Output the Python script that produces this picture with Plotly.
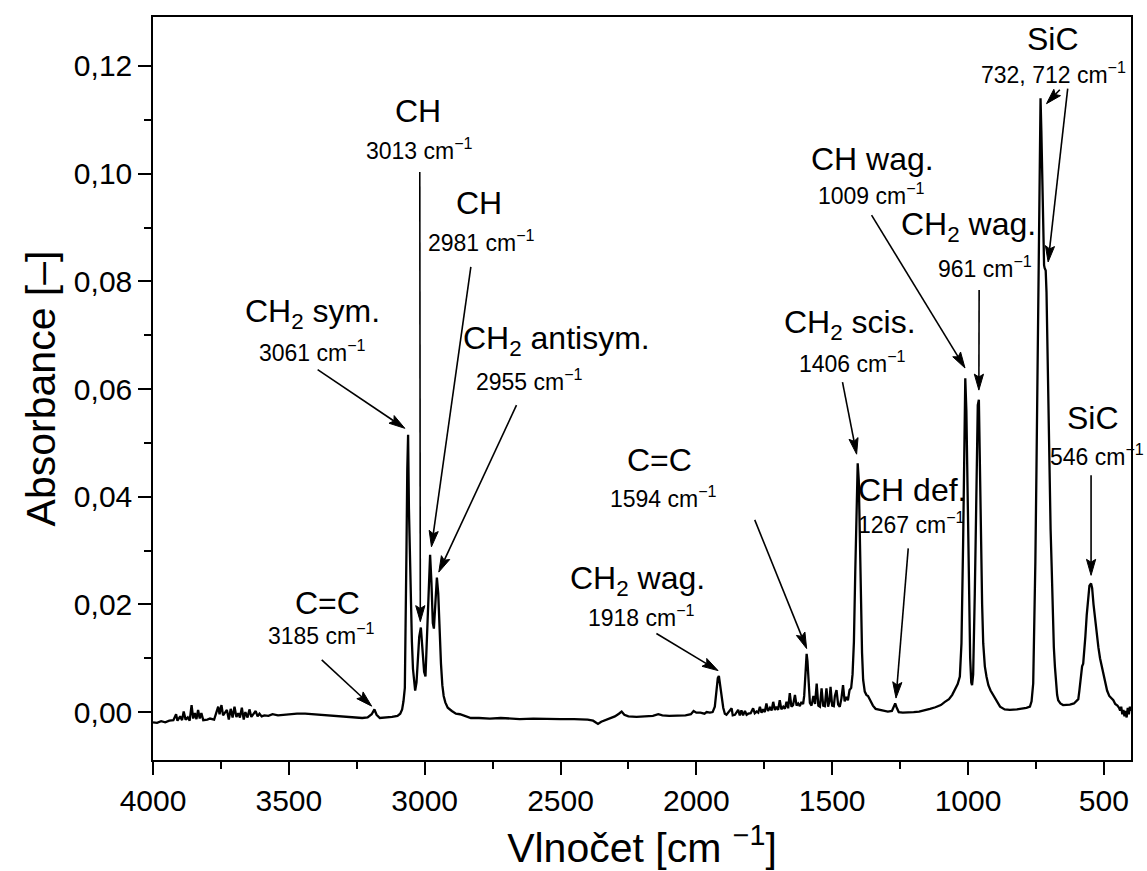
import math
import plotly.graph_objects as go

# ---- spectrum (wavenumber cm^-1, absorbance) ----
wavenumber = [
    4000, 3985, 3970, 3955, 3940, 3925, 3915, 3910, 3900, 3893, 3887, 3880, 3872, 3865,
    3858, 3852, 3846, 3840, 3834, 3828, 3822, 3815, 3800, 3790, 3775, 3760, 3755, 3748,
    3742, 3735, 3728, 3721, 3714, 3707, 3700, 3693, 3686, 3680, 3673, 3666, 3660, 3652,
    3645, 3638, 3630, 3622, 3615, 3608, 3600, 3590, 3575, 3560, 3540, 3520, 3500, 3470,
    3440, 3410, 3380, 3350, 3320, 3290, 3260, 3230, 3210, 3195, 3185, 3177, 3165, 3140,
    3120, 3100, 3090, 3083, 3078, 3073, 3070, 3067, 3064, 3061, 3058, 3055, 3051, 3047,
    3043, 3039, 3035, 3030, 3025, 3020, 3014, 3008, 3002, 2997, 2992, 2986, 2980, 2975,
    2970, 2966, 2961, 2955, 2950, 2945, 2940, 2935, 2930, 2924, 2915, 2900, 2885, 2870,
    2850, 2830, 2800, 2760, 2720, 2680, 2650, 2600, 2550, 2500, 2450, 2400, 2380, 2370,
    2362, 2350, 2320, 2300, 2285, 2275, 2265, 2250, 2220, 2190, 2160, 2140, 2125, 2100,
    2070, 2040, 2020, 2010, 2000, 1985, 1970, 1962, 1950, 1940, 1932, 1926, 1921, 1917,
    1912, 1907, 1901, 1895, 1889, 1870, 1866, 1858, 1846, 1840, 1834, 1828, 1821, 1815,
    1809, 1800, 1791, 1785, 1778, 1772, 1766, 1760, 1754, 1748, 1742, 1736, 1729, 1723,
    1717, 1711, 1705, 1699, 1693, 1687, 1680, 1674, 1668, 1662, 1656, 1650, 1644, 1637,
    1631, 1625, 1619, 1613, 1607, 1603, 1599, 1596, 1594, 1591, 1588, 1585, 1582, 1576,
    1569, 1563, 1557, 1551, 1545, 1539, 1533, 1527, 1521, 1515, 1510, 1506, 1500, 1494,
    1490, 1484, 1478, 1472, 1466, 1460, 1454, 1448, 1442, 1436, 1430, 1425, 1420, 1415,
    1410, 1406, 1402, 1398, 1394, 1390, 1386, 1380, 1374, 1368, 1360, 1350, 1340, 1325,
    1310, 1295, 1280, 1272, 1268, 1263, 1255, 1240, 1220, 1200, 1180, 1160, 1140, 1120,
    1100, 1085, 1070, 1058, 1048, 1038, 1030, 1024, 1018, 1014, 1010, 1006, 1002, 999,
    995, 992, 988, 985, 981, 978, 975, 972, 968, 964, 960, 957, 953, 948,
    944, 938, 932, 925, 917, 907, 895, 882, 865, 846, 820, 800, 785, 772,
    766, 760, 756, 752, 748, 745, 742, 739, 736, 733, 730, 727, 724, 720,
    718, 714, 711, 708, 705, 700, 696, 692, 688, 684, 680, 676, 672, 668,
    660, 650, 637, 625, 610, 600, 594, 590, 585, 580, 576, 572, 568, 563,
    558, 553, 547, 543, 538, 533, 527, 520, 514, 508, 502, 495, 488, 480,
    472, 465, 458, 450, 444, 440, 436, 432, 428, 424, 420, 416, 412, 408,
    404, 400,
]
absorbance = [
    -0.0019, -0.0020, -0.0017, -0.0019, -0.0016, -0.0015, -0.0004, -0.0016, -0.0008, -0.0015, 0.0001, -0.0014, -0.0010, -0.0016,
    0.0013, -0.0012, -0.0002, -0.0013, 0.0004, -0.0012, -0.0002, -0.0015, -0.0014, -0.0012, -0.0014, 0.0010, -0.0004, 0.0013,
    -0.0006, -0.0002, 0.0004, -0.0014, 0.0006, -0.0010, 0.0010, -0.0009, -0.0002, -0.0010, 0.0008, -0.0014, 0.0000, -0.0010,
    0.0005, -0.0009, -0.0004, 0.0002, -0.0008, -0.0003, -0.0008, -0.0006, -0.0007, -0.0004, -0.0006, -0.0005, -0.0004, -0.0003,
    -0.0003, -0.0004, -0.0005, -0.0006, -0.0008, -0.0009, -0.0010, -0.0011, -0.0010, -0.0004, 0.0005, -0.0005, -0.0011, -0.0010,
    -0.0009, -0.0007, -0.0003, 0.0005, 0.0020, 0.0045, 0.0140, 0.0300, 0.0450, 0.0515, 0.0380, 0.0290, 0.0200, 0.0130,
    0.0080, 0.0050, 0.0040, 0.0055, 0.0095, 0.0140, 0.0157, 0.0120, 0.0075, 0.0066, 0.0130, 0.0230, 0.0292, 0.0240,
    0.0165, 0.0155, 0.0210, 0.0250, 0.0220, 0.0150, 0.0090, 0.0050, 0.0030, 0.0018, 0.0008, 0.0002, -0.0003, -0.0004,
    -0.0007, -0.0011, -0.0011, -0.0012, -0.0011, -0.0012, -0.0013, -0.0012, -0.0013, -0.0013, -0.0013, -0.0014, -0.0016, -0.0020,
    -0.0022, -0.0018, -0.0012, -0.0008, -0.0003, 0.0001, -0.0005, -0.0008, -0.0009, -0.0008, -0.0007, -0.0004, -0.0006, -0.0007,
    -0.0007, -0.0006, -0.0004, 0.0002, -0.0001, -0.0001, -0.0003, 0.0000, -0.0001, 0.0000, 0.0010, 0.0040, 0.0063, 0.0067,
    0.0050, 0.0025, 0.0008, -0.0003, -0.0005, 0.0007, -0.0006, -0.0005, 0.0004, -0.0006, 0.0003, -0.0006, 0.0002, -0.0005,
    -0.0003, -0.0002, 0.0007, -0.0002, 0.0001, -0.0001, 0.0010, -0.0001, 0.0005, 0.0000, 0.0016, 0.0002, 0.0008, 0.0003,
    0.0019, 0.0004, 0.0010, 0.0004, 0.0022, 0.0005, 0.0010, 0.0006, 0.0019, 0.0007, 0.0035, 0.0010, 0.0013, 0.0032,
    0.0012, 0.0016, 0.0011, 0.0019, 0.0015, 0.0030, 0.0070, 0.0100, 0.0108, 0.0095, 0.0060, 0.0030, 0.0017, 0.0012,
    0.0030, 0.0015, 0.0053, 0.0012, 0.0010, 0.0044, 0.0012, 0.0011, 0.0044, 0.0010, 0.0020, 0.0047, 0.0012, 0.0011,
    0.0030, 0.0041, 0.0014, 0.0010, 0.0025, 0.0050, 0.0020, 0.0028, 0.0022, 0.0041, 0.0045, 0.0070, 0.0130, 0.0260,
    0.0400, 0.0462, 0.0430, 0.0320, 0.0200, 0.0110, 0.0060, 0.0038, 0.0032, 0.0030, 0.0022, 0.0012, 0.0006, 0.0004,
    0.0003, 0.0001, 0.0002, 0.0010, 0.0016, 0.0009, 0.0000, -0.0001, -0.0001, 0.0000, 0.0001, 0.0003, 0.0006, 0.0009,
    0.0013, 0.0019, 0.0024, 0.0032, 0.0041, 0.0052, 0.0066, 0.0128, 0.0313, 0.0500, 0.0620, 0.0560, 0.0420, 0.0313,
    0.0180, 0.0100, 0.0055, 0.0050, 0.0070, 0.0128, 0.0220, 0.0313, 0.0480, 0.0570, 0.0580, 0.0480, 0.0313, 0.0200,
    0.0128, 0.0085, 0.0066, 0.0050, 0.0040, 0.0032, 0.0020, 0.0010, 0.0005, 0.0004, 0.0005, 0.0006, 0.0008, 0.0010,
    0.0020, 0.0053, 0.0150, 0.0280, 0.0450, 0.0600, 0.0750, 0.0900, 0.1050, 0.1140, 0.1080, 0.0980, 0.0900, 0.0830,
    0.0825, 0.0820, 0.0780, 0.0680, 0.0580, 0.0440, 0.0340, 0.0270, 0.0180, 0.0120, 0.0084, 0.0050, 0.0032, 0.0022,
    0.0016, 0.0013, 0.0013, 0.0014, 0.0016, 0.0020, 0.0024, 0.0040, 0.0070, 0.0085, 0.0090, 0.0110, 0.0140, 0.0180,
    0.0215, 0.0235, 0.0239, 0.0230, 0.0200, 0.0175, 0.0146, 0.0120, 0.0100, 0.0085, 0.0072, 0.0055, 0.0040, 0.0030,
    0.0025, 0.0022, 0.0015, 0.0012, 0.0008, 0.0003, 0.0010, -0.0004, 0.0004, -0.0008, 0.0002, -0.0010, 0.0008, -0.0004,
    0.0010, 0.0002,
]

# ---- band labels ----
band_names = ["C=C", "CH<sub>2</sub> sym.", "CH", "CH", "CH<sub>2</sub> antisym.",
              "CH<sub>2</sub> wag.", "C=C", "CH<sub>2</sub> scis.", "CH def.", "CH wag.",
              "CH<sub>2</sub> wag.", "SiC", "SiC"]
band_positions = ["3185", "3061", "3013", "2981", "2955", "1918", "1594", "1406",
                  "1267", "1009", "961", "732, 712", "546"]

# placement of label texts (name x, name y, value x, value y) in data units
label_layout = [
    (3357, 0.0202, 3379, 0.0145),
    (3412, 0.0740, 3412, 0.0671),
    (3024, 0.1117, 3018, 0.1045),
    (2800, 0.0945, 2790, 0.0875),
    (2514, 0.0691, 2613, 0.0617),
    (2215, 0.0245, 2201, 0.0178),
    (2134, 0.0468, 2120, 0.0399),
    (1435, 0.0719, 1427, 0.0650),
    (1207, 0.0412, 1207, 0.0351),
    (1350, 0.1027, 1354, 0.0962),
    (997, 0.0902, 938, 0.0826),
    (687, 0.1250, 687, 0.1187),
    (540, 0.0546, 527, 0.0477),
]
# arrows: (tail x, tail y, head x, head y) in data units
arrow_layout = [
    (3379, 0.0097, 3195, 0.0011),
    (3394, 0.0636, 3073, 0.0527),
    (3018, 0.1003, 3016, 0.0168),
    (2830, 0.0827, 2975, 0.0307),
    (2662, 0.0570, 2948, 0.0260),
    (2147, 0.0146, 1920, 0.0077),
    (1785, 0.0357, 1594, 0.0118),
    (1462, 0.0613, 1410, 0.0479),
    (1220, 0.0304, 1265, 0.0026),
    (1355, 0.0923, 1011, 0.0639),
    (959, 0.0784, 960, 0.0598),
    (662, 0.1156, 711, 0.1130),
    (633, 0.1158, 705, 0.0836),
    (547, 0.0440, 547, 0.0254),
]

FONT = "Liberation Sans"
W, H = 1147, 871
ML, MR, MT, MB = 153, 16, 17, 111
X_RANGE = [4000, 400]
Y_RANGE = [-0.0089, 0.1291]
PW, PH = W - ML - MR, H - MT - MB


def to_px(x, y):
    return ((X_RANGE[0] - x) / (X_RANGE[0] - X_RANGE[1]) * PW,
            (Y_RANGE[1] - y) / (Y_RANGE[1] - Y_RANGE[0]) * PH)


def to_data(px, py):
    return (X_RANGE[0] - px / PW * (X_RANGE[0] - X_RANGE[1]),
            Y_RANGE[1] - py / PH * (Y_RANGE[1] - Y_RANGE[0]))


fig = go.Figure()
fig.add_trace(go.Scatter(x=wavenumber, y=absorbance, mode="lines",
                         line=dict(color="black", width=2.3), showlegend=False,
                         hoverinfo="skip"))

annotations = []
for name, pos, (nx, ny, vx, vy) in zip(band_names, band_positions, label_layout):
    annotations.append(dict(x=nx, y=ny, xref="x", yref="y", text=name, showarrow=False,
                            font=dict(family=FONT, size=32, color="black"),
                            xanchor="center", yanchor="middle"))
    annotations.append(dict(x=vx, y=vy, xref="x", yref="y",
                            text=pos + " cm<sup>−1</sup>", showarrow=False,
                            font=dict(family=FONT, size=23, color="black"),
                            xanchor="center", yanchor="middle"))

# arrows drawn as a line plus a slender filled head
shapes = []
for (tx, ty, hx, hy) in arrow_layout:
    tpx, tpy = to_px(tx, ty)
    hpx, hpy = to_px(hx, hy)
    dx, dy = hpx - tpx, hpy - tpy
    length = math.hypot(dx, dy)
    ux, uy = dx / length, dy / length
    nx_, ny_ = -uy, ux
    hl = min(16.0, 0.8 * length)
    hw = 4.6
    bx, by = hpx - ux * hl, hpy - uy * hl
    kx, ky = hpx - ux * hl * 0.82, hpy - uy * hl * 0.82
    p_tip = to_data(hpx, hpy)
    p_l = to_data(bx + nx_ * hw, by + ny_ * hw)
    p_k = to_data(kx, ky)
    p_r = to_data(bx - nx_ * hw, by - ny_ * hw)
    p_tail = to_data(tpx, tpy)
    shapes.append(dict(type="line", xref="x", yref="y", x0=p_tail[0], y0=p_tail[1],
                       x1=p_k[0], y1=p_k[1], line=dict(color="black", width=1.6)))
    path = "M {},{} L {},{} L {},{} L {},{} Z".format(p_tip[0], p_tip[1], p_l[0], p_l[1],
                                                     p_k[0], p_k[1], p_r[0], p_r[1])
    shapes.append(dict(type="path", xref="x", yref="y", path=path,
                       fillcolor="black", line=dict(color="black", width=1)))

fig.update_layout(
    width=W, height=H,
    margin=dict(l=ML, r=MR, t=MT, b=MB),
    paper_bgcolor="white", plot_bgcolor="white",
    separators=",.",
    font=dict(family=FONT, color="black"),
    annotations=annotations,
    shapes=shapes,
    hovermode=False,
)
fig.update_xaxes(
    range=X_RANGE, tick0=0, dtick=500, ticks="outside", ticklen=13, tickwidth=1.5,
    tickcolor="black", showline=True, linecolor="black", linewidth=1.5, mirror=True,
    showgrid=False, zeroline=False, automargin=False,
    tickfont=dict(family=FONT, size=30, color="black"),
    minor=dict(dtick=250, tick0=0, ticks="outside", ticklen=7, tickwidth=1.5, tickcolor="black", showgrid=False),
    title=dict(text="Vlnočet [cm <sup>−1</sup>]", font=dict(family=FONT, size=41, color="black"), standoff=28),
)
fig.update_yaxes(
    range=Y_RANGE, tick0=0, dtick=0.02, tickformat=".2f", ticks="outside",
    ticklen=13, tickwidth=1.5, tickcolor="black", showline=True, linecolor="black",
    linewidth=1.5, mirror=True, showgrid=False, zeroline=False, automargin=False,
    tickfont=dict(family=FONT, size=30, color="black"),
    minor=dict(dtick=0.01, tick0=0, ticks="outside", ticklen=7, tickwidth=1.5, tickcolor="black", showgrid=False),
    title=dict(text="Absorbance [–]", font=dict(family=FONT, size=41, color="black"), standoff=6),
)

fig.write_html("out.html", config={"displayModeBar": False},
               post_script="document.body.style.margin='0';document.body.style.padding='0';")
